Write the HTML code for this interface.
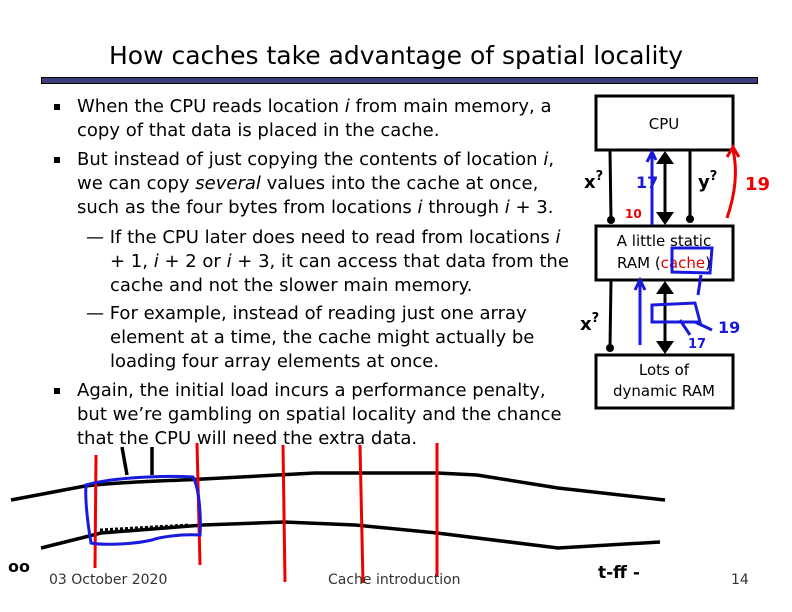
<!DOCTYPE html>
<html><head><meta charset="utf-8"><style>
body{margin:0;width:792px;height:612px;background:#fff;position:relative;overflow:hidden;font-family:"DejaVu Sans","Liberation Sans",sans-serif;}
.t{position:absolute;white-space:nowrap;font-size:18px;color:#000;line-height:22px;}
.b{position:absolute;width:6px;height:6px;background:#000;}
</style></head><body>
<div class="t" style="left:0;width:792px;text-align:center;top:41px;font-size:25px;line-height:30px;">How caches take advantage of spatial locality</div>
<div style="position:absolute;left:41px;top:77px;width:715px;height:5px;background:#3a3f7a;border:1px solid #000;"></div>

<div class="b" style="left:54px;top:104px"></div>
<div class="t" style="left:77px;top:96px">When the CPU reads location <i>i</i> from main memory, a</div>
<div class="t" style="left:77px;top:120px">copy of that data is placed in the cache.</div>
<div class="b" style="left:54px;top:157px"></div>
<div class="t" style="left:77px;top:149px">But instead of just copying the contents of location <i>i</i>,</div>
<div class="t" style="left:77px;top:173px">we can copy <i>several</i> values into the cache at once,</div>
<div class="t" style="left:77px;top:197px">such as the four bytes from locations <i>i</i> through <i>i</i> + 3.</div>
<div class="t" style="left:86px;top:227px">— If the CPU later does need to read from locations <i>i</i></div>
<div class="t" style="left:110px;top:251px">+ 1, <i>i</i> + 2 or <i>i</i> + 3, it can access that data from the</div>
<div class="t" style="left:110px;top:275px">cache and not the slower main memory.</div>
<div class="t" style="left:86px;top:303px">— For example, instead of reading just one array</div>
<div class="t" style="left:110px;top:327px">element at a time, the cache might actually be</div>
<div class="t" style="left:110px;top:351px">loading four array elements at once.</div>
<div class="b" style="left:54px;top:388px"></div>
<div class="t" style="left:77px;top:380px">Again, the initial load incurs a performance penalty,</div>
<div class="t" style="left:77px;top:404px">but we’re gambling on spatial locality and the chance</div>
<div class="t" style="left:77px;top:428px">that the CPU will need the extra data.</div>

<svg width="792" height="612" style="position:absolute;left:0;top:0" xmlns="http://www.w3.org/2000/svg">
<g fill="none" stroke="#000" stroke-width="3">
<rect x="596" y="96" width="137" height="54"/>
<rect x="596" y="226" width="137" height="54"/>
<rect x="596" y="355" width="137" height="53"/>
<line x1="610" y1="150" x2="611" y2="220"/>
<line x1="690" y1="150" x2="690" y2="218"/>
<line x1="611" y1="280" x2="610" y2="348"/>
<line x1="665" y1="160" x2="665" y2="216"/>
<line x1="665" y1="290" x2="665" y2="346"/>
</g>
<g fill="#000">
<circle cx="611" cy="220" r="4"/><circle cx="690" cy="219" r="4"/><circle cx="610" cy="348" r="4"/>
<polygon points="665,151 656,164 674,164"/><polygon points="665,225 656,212 674,212"/>
<polygon points="665,281 656,294 674,294"/><polygon points="665,354 656,341 674,341"/>
</g>
<text x="664" y="129" font-size="15" text-anchor="middle" font-family="DejaVu Sans,sans-serif">CPU</text>
<text x="664" y="246" font-size="15" text-anchor="middle" font-family="DejaVu Sans,sans-serif">A little static</text>
<text x="664" y="268" font-size="15" text-anchor="middle" font-family="DejaVu Sans,sans-serif">RAM (<tspan fill="#d00">cache</tspan>)</text>
<text x="664" y="375" font-size="15" text-anchor="middle" font-family="DejaVu Sans,sans-serif">Lots of</text>
<text x="664" y="396" font-size="15" text-anchor="middle" font-family="DejaVu Sans,sans-serif">dynamic RAM</text>
<g fill="none" stroke="#1a1adf" stroke-width="3">
<line x1="652" y1="225" x2="652" y2="155"/><path d="M647,162 L652,152 L656,160"/>
<path d="M672,248 L712,248 L710,273 L672,272 Z"/><line x1="701" y1="275" x2="698" y2="295"/>
<path d="M640,345 L640,282 M635,290 L640,280 L645,290"/>
<path d="M652,305 L695,303 L700,322 L652,322 Z M695,322 L712,330 M680,320 L690,335"/>
</g>
<text x="636" y="188" fill="#1a1adf" font-size="16" font-weight="bold" font-family="DejaVu Sans,sans-serif">17</text>
<text x="718" y="333" fill="#1a1adf" font-size="16" font-weight="bold" font-family="DejaVu Sans,sans-serif">19</text>
<text x="688" y="348" fill="#1a1adf" font-size="13" font-weight="bold" font-family="DejaVu Sans,sans-serif">17</text>
<path d="M727,218 Q740,180 733,150 M727,157 L733,147 L739,157" fill="none" stroke="#e00" stroke-width="3"/>
<text x="745" y="190" fill="#e00" font-size="18" font-weight="bold" font-family="DejaVu Sans,sans-serif">19</text>
<text x="625" y="218" fill="#e00" font-size="12" font-weight="bold" font-family="DejaVu Sans,sans-serif">10</text>
<text x="584" y="188" font-size="18" font-weight="bold" font-family="DejaVu Sans,sans-serif">x<tspan font-size="13" dy="-8">?</tspan></text>
<text x="698" y="188" font-size="18" font-weight="bold" font-family="DejaVu Sans,sans-serif">y<tspan font-size="13" dy="-8">?</tspan></text>
<text x="580" y="330" font-size="18" font-weight="bold" font-family="DejaVu Sans,sans-serif">x<tspan font-size="13" dy="-8">?</tspan></text>
<!-- bottom memory strip -->
<g fill="none" stroke="#000" stroke-width="3.5">
<path d="M11,500 L85,486 C130,481 170,481 203,479 L315,473 L437,473 L477,475 L558,488 L665,500"/>
<path d="M41,548 L101,533 L203,525 L284,522 L355,525 L437,533 L558,548 L660,542"/>
<path d="M122,447 L127,475 M152,447 L152,475"/>
</g>
<g fill="none" stroke="#e00" stroke-width="3">
<line x1="96" y1="455" x2="95" y2="568"/>
<line x1="197" y1="443" x2="200" y2="565"/>
<line x1="283" y1="445" x2="285" y2="582"/>
<line x1="360" y1="445" x2="363" y2="583"/>
<line x1="437" y1="443" x2="437" y2="577"/>
</g>
<path d="M86,485 C110,478 160,475 193,477 C200,490 201,520 200,535 C180,534 160,537 152,540 C130,545 100,545 91,543 C88,525 85,500 86,485 Z" fill="none" stroke="#1a1adf" stroke-width="3"/>
<path d="M100,530 L190,525" stroke="#000" stroke-width="3" stroke-dasharray="3,2"/>
<text x="8" y="572" font-size="16" font-weight="bold" font-family="DejaVu Sans,sans-serif">oo</text>
<text x="598" y="578" font-size="17" font-weight="bold" font-family="DejaVu Sans,sans-serif">t-ff -</text>
</svg>
<div class="t" style="left:49px;top:569px;font-size:14px;color:#333">03 October 2020</div>
<div class="t" style="left:328px;top:569px;font-size:14px;color:#333">Cache introduction</div>
<div class="t" style="left:731px;top:569px;font-size:14px;color:#333">14</div>
</body></html>
